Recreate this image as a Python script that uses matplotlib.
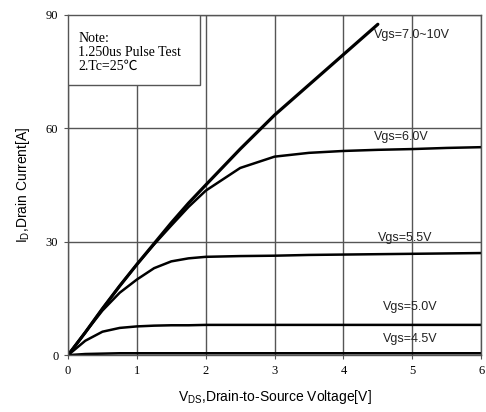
import matplotlib.pyplot as plt
from matplotlib.patches import Rectangle

# drain voltage samples [V]
vds = [0, 0.25, 0.5, 0.75, 1, 1.25, 1.5, 1.75, 2, 2.5, 3, 3.5, 4, 4.5, 5, 5.5, 6]

# drain current per gate voltage [A]
vgs_7_10 = [0, 6, 12.3, 18.3, 24, 29.5, 35, 40.2, 45, 54.5, 63.5, 71.5, 79.5, 87.5]
vgs_6_0 = [0, 6, 12.3, 18.3, 24, 29.3, 34.3, 39.2, 43.5, 49.5, 52.5, 53.5, 54, 54.3, 54.5, 54.8, 55]
vgs_5_5 = [0, 6, 11.8, 16.5, 20, 23, 24.8, 25.6, 26, 26.2, 26.3, 26.5, 26.6, 26.7, 26.8, 26.9, 27]
vgs_5_0 = [0, 3.8, 6.2, 7.2, 7.6, 7.8, 7.9, 7.9, 8, 8, 8, 8, 8, 8, 8, 8, 8]
vgs_4_5 = [0, 0.3, 0.4, 0.5, 0.5, 0.5, 0.5, 0.5, 0.5, 0.5, 0.5, 0.5, 0.5, 0.5, 0.5, 0.5, 0.5]

labels = ['Vgs=7.0~10V', 'Vgs=6.0V', 'Vgs=5.5V', 'Vgs=5.0V', 'Vgs=4.5V']
label_pos = [(4.45, 84), (4.45, 57), (4.5, 30.2), (4.57, 12), (4.57, 3.5)]

fig = plt.figure(figsize=(4.86, 4.12), dpi=100)
ax = fig.add_axes([0.140, 0.138, 0.850, 0.826])

ax.plot(vds[:len(vgs_7_10)], vgs_7_10, color='black', lw=2.3, solid_capstyle='round')
ax.plot(vds, vgs_6_0, color='black', lw=1.8)
ax.plot(vds, vgs_5_5, color='black', lw=1.8)
ax.plot(vds, vgs_5_0, color='black', lw=1.8)
ax.plot(vds, vgs_4_5, color='black', lw=1.8)

for txt, (x, y) in zip(labels, label_pos):
    ax.text(x, y, txt, fontsize=9, family='Liberation Sans', color='#222222')

ax.set_xlim(0, 6)
ax.set_ylim(0, 90)
ax.set_xticks(range(0, 7))
ax.set_yticks([0, 30, 60, 90])
ax.grid(True, color='#555555', lw=1)
ax.set_axisbelow(True)
for s in ax.spines.values():
    s.set_color('#555555')
    s.set_linewidth(1)
ax.tick_params(length=3, color='#555555', labelsize=9, pad=4)
for t in ax.get_xticklabels() + ax.get_yticklabels():
    t.set_family('Liberation Serif')

ax.set_xlabel(r'V$_{\mathregular{DS}}$,Drain-to-Source Voltage[V]', fontsize=10,
              family='Liberation Sans', labelpad=8)
ax.set_ylabel(r'I$_{\mathregular{D}}$,Drain Current[A]', fontsize=10,
              family='Liberation Sans', labelpad=10)

# note box
ax.add_patch(Rectangle((0, 0.795), 0.32, 0.205, transform=ax.transAxes, fc='white',
                       ec='#555555', lw=1, zorder=3))
ax.text(0.025, 0.95, 'Note:\n1.250us Pulse Test\n2.Tc=25\u2103', transform=ax.transAxes,
        fontsize=10, family=['Liberation Serif', 'Noto Sans CJK SC'], va='top',
        linespacing=1.1, zorder=4)

fig.savefig('out.png', dpi=100)
